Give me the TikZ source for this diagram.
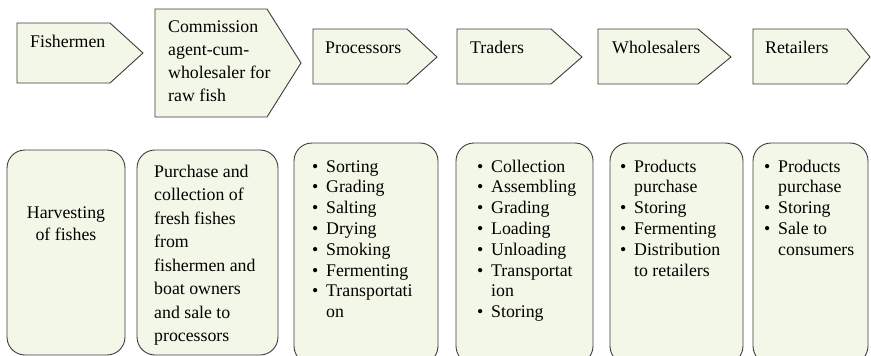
\documentclass[tikz,border=0pt]{standalone}
\usepackage{fontspec}
\setmainfont{Liberation Serif}
\definecolor{boxfill}{RGB}{243,247,231}
\definecolor{boxline}{RGB}{60,60,60}
\newcommand{\itm}[1]{\makebox[14pt][l]{\textbullet}#1}
\newcommand{\cnt}[1]{\hspace*{14pt}#1}

\begin{document}
\begin{tikzpicture}[
    x=1pt, y=-1pt,
    stage/.style={draw=boxline, line width=0.9pt, fill=boxfill, line join=miter},
    task/.style={draw=boxline, line width=0.9pt, fill=boxfill, rounded corners=18pt},
    txt/.style={inner sep=0pt, anchor=base west, font=\fontsize{17.8}{23.3}\selectfont},
    lst/.style={inner sep=0pt, anchor=base west, font=\fontsize{17.8}{20.8}\selectfont}
]
\useasboundingbox (0,0) rectangle (871,356);

% actors (top row)
\draw[stage] (17,23) -- (110,23) -- (143,53) -- (110,83) -- (17,83) -- cycle;
\draw[stage] (155,9) -- (267,9) -- (301,63) -- (267,117) -- (155,117) -- cycle;
\draw[stage] (313,29) -- (407,29) -- (437,57) -- (407,84) -- (313,84) -- cycle;
\draw[stage] (457,29) -- (551,29) -- (582,57) -- (551,84) -- (457,84) -- cycle;
\draw[stage] (598,29) -- (698,29) -- (731,57) -- (698,84) -- (598,84) -- cycle;
\draw[stage] (753,29) -- (847,29) -- (870,57) -- (847,84) -- (753,84) -- cycle;

\node[txt] (fisher) at (30,47) {Fishermen};
\node[txt] (agent) at (168,32) {\parbox[t]{125pt}{\raggedright Commission\\agent-cum-\\wholesaler for\\raw fish}};
\node[txt] (proc) at (325,53) {Processors};
\node[txt] (trade) at (470,53) {Traders};
\node[txt] (whole) at (612,53) {Wholesalers};
\node[txt] (retail) at (765,53) {Retailers};

% activities (bottom row)
\draw[task] (7,150) rectangle (125,355);
\draw[task] (137,150) rectangle (278,355);
\draw[task] (294,143) rectangle (438,364);
\draw[task] (456,143) rectangle (593,364);
\draw[task] (610,143) rectangle (743,364);
\draw[task] (753,143) rectangle (868,364);

\node[txt, anchor=base, font=\fontsize{17.8}{22}\selectfont] (harvest) at (66,218)
    {\parbox[t]{110pt}{\centering Harvesting\\of fishes}};
\node[txt, font=\fontsize{17.8}{23.5}\selectfont] (purchase) at (154,177)
    {\parbox[t]{125pt}{\raggedright Purchase and\\collection of\\fresh fishes\\from\\fishermen and\\boat owners\\and sale to\\processors}};
\node[lst] (proclist) at (312,172)
    {\parbox[t]{130pt}{\raggedright \itm{Sorting}\\\itm{Grading}\\\itm{Salting}\\\itm{Drying}\\\itm{Smoking}\\\itm{Fermenting}\\\itm{Transportati}\\\cnt{on}}};
\node[lst] (tradelist) at (477,172)
    {\parbox[t]{120pt}{\raggedright \itm{Collection}\\\itm{Assembling}\\\itm{Grading}\\\itm{Loading}\\\itm{Unloading}\\\itm{Transportat}\\\cnt{ion}\\\itm{Storing}}};
\node[lst] (wholelist) at (620,172)
    {\parbox[t]{120pt}{\raggedright \itm{Products}\\\cnt{purchase}\\\itm{Storing}\\\itm{Fermenting}\\\itm{Distribution}\\\cnt{to retailers}}};
\node[lst] (retaillist) at (764,172)
    {\parbox[t]{105pt}{\raggedright \itm{Products}\\\cnt{purchase}\\\itm{Storing}\\\itm{Sale to}\\\cnt{consumers}}};
\end{tikzpicture}
\end{document}
